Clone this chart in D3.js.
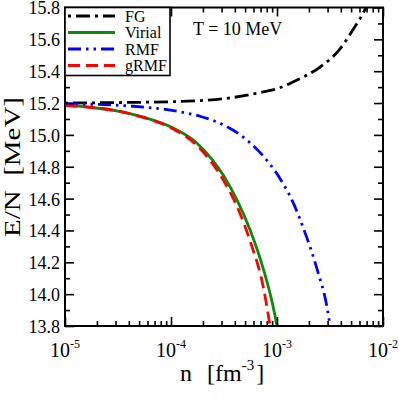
<!DOCTYPE html>
<html>
<head>
<meta charset="utf-8">
<script src="https://cdn.jsdelivr.net/npm/d3@7"></script>
<style>
  body { margin: 0; background: #fff; }
  text { font-family: "Liberation Serif", "Times New Roman", serif; fill: #000; }
</style>
</head>
<body>
<div id="chart"></div>
<script>
// values: density n [fm^-3] and E/N [MeV]
const fgN = [1e-5, 3e-5, 1.22e-4, 3.6e-4, 7.4e-4, 1.0e-3, 1.55e-3, 2.55e-3, 3.93e-3, 5.2e-3, 6.8e-3, 7.6e-3];
const fgE = [15.20, 15.203, 15.21, 15.232, 15.27, 15.29, 15.345, 15.426, 15.54, 15.66, 15.79, 15.86];

const virialN = [1e-5, 1.78e-5, 3.16e-5, 5.6e-5, 1e-4, 1.78e-4, 3.16e-4, 4.2e-4, 5.6e-4, 7.5e-4, 9e-4, 1e-3, 1.05e-3];
const virialE = [15.185, 15.172, 15.15, 15.11, 15.05, 14.945, 14.74, 14.59, 14.40, 14.15, 13.95, 13.80, 13.72];

const rmfN = [1e-5, 4.4e-5, 1.22e-4, 1.88e-4, 2.5e-4, 4.5e-4, 6.9e-4, 1.07e-3, 1.42e-3, 1.76e-3, 2.38e-3, 2.96e-3, 3.16e-3, 3.3e-3];
const rmfE = [15.196, 15.18, 15.145, 15.117, 15.09, 15.0, 14.89, 14.725, 14.575, 14.42, 14.16, 13.92, 13.806, 13.74];

const grmfN = [1e-5, 1.78e-5, 3.16e-5, 5.6e-5, 1e-4, 1.78e-4, 3.16e-4, 4.2e-4, 5.6e-4, 7.5e-4, 8.6e-4, 9.2e-4];
const grmfE = [15.185, 15.172, 15.15, 15.108, 15.045, 14.93, 14.71, 14.55, 14.33, 14.03, 13.80, 13.67];

const xMajor = [1e-5, 1e-4, 1e-3, 1e-2];
const xExponents = ["-5", "-4", "-3", "-2"];
const xMinor = [2e-5, 3e-5, 4e-5, 5e-5, 6e-5, 7e-5, 8e-5, 9e-5,
  2e-4, 3e-4, 4e-4, 5e-4, 6e-4, 7e-4, 8e-4, 9e-4,
  2e-3, 3e-3, 4e-3, 5e-3, 6e-3, 7e-3, 8e-3, 9e-3];
const yMajor = [13.8, 14.0, 14.2, 14.4, 14.6, 14.8, 15.0, 15.2, 15.4, 15.6, 15.8];
const yMinor = [13.9, 14.1, 14.3, 14.5, 14.7, 14.9, 15.1, 15.3, 15.5, 15.7];

const seriesNames = ["FG", "Virial", "RMF", "gRMF"];

const width = 399, height = 397;
const margin = { top: 7.5, right: 16, bottom: 71, left: 65 };
const innerW = width - margin.left - margin.right;
const innerH = height - margin.top - margin.bottom;

const series = [
  { name: seriesNames[0], n: fgN, e: fgE, color: "#000000", dash: "3,5,14,5" },
  { name: seriesNames[1], n: virialN, e: virialE, color: "#0b8a0b", dash: null },
  { name: seriesNames[2], n: rmfN, e: rmfE, color: "#0000ff", dash: "13,5,2.5,5,2.5,5" },
  { name: seriesNames[3], n: grmfN, e: grmfE, color: "#ff0000", dash: "12,6" }
];

const svg = d3.select("#chart").append("svg")
  .attr("width", width)
  .attr("height", height);

const x = d3.scaleLog().domain([1e-5, 1e-2]).range([0, innerW]);
const y = d3.scaleLinear().domain([13.8, 15.8]).range([innerH, 0]);

const chart = svg.append("g").attr("transform", `translate(${margin.left},${margin.top})`);

chart.append("clipPath").attr("id", "clip")
  .append("rect").attr("width", innerW).attr("height", innerH);

// curves
const line = d3.line()
  .x(d => x(d[0]))
  .y(d => y(d[1]))
  .curve(d3.curveMonotoneX);

chart.append("g").attr("clip-path", "url(#clip)")
  .selectAll("path")
  .data(series)
  .join("path")
  .attr("d", s => line(s.n.map((v, i) => [v, s.e[i]])))
  .attr("fill", "none")
  .attr("stroke", s => s.color)
  .attr("stroke-width", 2.8)
  .attr("stroke-dasharray", s => s.dash);

// ticks (inward on all four sides)
function styleAxis(g) {
  g.select(".domain").remove();
  g.selectAll(".tick line").attr("stroke", "#000").attr("stroke-width", 1.6);
}

chart.append("g").attr("transform", `translate(0,${innerH})`)
  .call(d3.axisBottom(x).tickValues(xMajor).tickSize(-9).tickFormat(""))
  .call(styleAxis);
chart.append("g").attr("transform", `translate(0,${innerH})`)
  .call(d3.axisBottom(x).tickValues(xMinor).tickSize(-5).tickFormat(""))
  .call(styleAxis);
chart.append("g")
  .call(d3.axisTop(x).tickValues(xMajor).tickSize(-9).tickFormat(""))
  .call(styleAxis);
chart.append("g")
  .call(d3.axisTop(x).tickValues(xMinor).tickSize(-5).tickFormat(""))
  .call(styleAxis);

const yAxisLeft = chart.append("g")
  .call(d3.axisLeft(y).tickValues(yMajor).tickSize(-9).tickPadding(5).tickFormat(d3.format(".1f")))
  .call(styleAxis);
yAxisLeft.selectAll("text")
  .attr("font-size", 18)
  .attr("dy", "0.36em")
  .attr("fill", "#000");
chart.append("g")
  .call(d3.axisLeft(y).tickValues(yMinor).tickSize(-5).tickFormat(""))
  .call(styleAxis);
chart.append("g").attr("transform", `translate(${innerW},0)`)
  .call(d3.axisRight(y).tickValues(yMajor).tickSize(-9).tickFormat(""))
  .call(styleAxis);
chart.append("g").attr("transform", `translate(${innerW},0)`)
  .call(d3.axisRight(y).tickValues(yMinor).tickSize(-5).tickFormat(""))
  .call(styleAxis);

// x tick labels 10^k
const xLabels = chart.append("g")
  .selectAll("text")
  .data(xMajor)
  .join("text")
  .attr("x", d => x(d))
  .attr("y", innerH + 31)
  .attr("text-anchor", "middle")
  .attr("font-size", 20);
xLabels.append("tspan").text("10");
xLabels.append("tspan")
  .attr("font-size", 12)
  .attr("dy", -9)
  .text((d, i) => xExponents[i]);

// frame
chart.append("rect")
  .attr("width", innerW)
  .attr("height", innerH)
  .attr("fill", "none")
  .attr("stroke", "#000")
  .attr("stroke-width", 2);

// legend
const legend = chart.append("g");
legend.append("rect")
  .attr("x", 0).attr("y", 0)
  .attr("width", 105).attr("height", 68)
  .attr("fill", "#fff")
  .attr("stroke", "#000")
  .attr("stroke-width", 1.6);
const rows = legend.selectAll("g.row")
  .data(series)
  .join("g")
  .attr("class", "row")
  .attr("transform", (d, i) => `translate(0,${8.5 + i * 16.5})`);
rows.append("line")
  .attr("x1", 3).attr("x2", 50)
  .attr("stroke", d => d.color)
  .attr("stroke-width", 2.8)
  .attr("stroke-dasharray", d => d.dash);
rows.append("text")
  .attr("x", 60).attr("y", 5.5)
  .attr("font-size", 16)
  .text(d => d.name);

// annotation
chart.append("text")
  .attr("x", 128).attr("y", 27.5)
  .attr("font-size", 18)
  .text("T = 10 MeV");

// axis titles
svg.append("text")
  .attr("transform", "translate(20,237) rotate(-90)")
  .attr("font-size", 24)
  .attr("textLength", 140)
  .attr("lengthAdjust", "spacingAndGlyphs")
  .style("white-space", "pre")
  .text("E/N  [MeV]");

const xTitle = svg.append("text")
  .attr("x", 180).attr("y", 381)
  .attr("font-size", 24);
xTitle.append("tspan").text("n");
xTitle.append("tspan").attr("dx", 15).text("[fm");
xTitle.append("tspan").attr("font-size", 15).attr("dy", -11).text("-3");
xTitle.append("tspan").attr("dy", 11).attr("dx", 2).text("]");
</script>
</body>
</html>
